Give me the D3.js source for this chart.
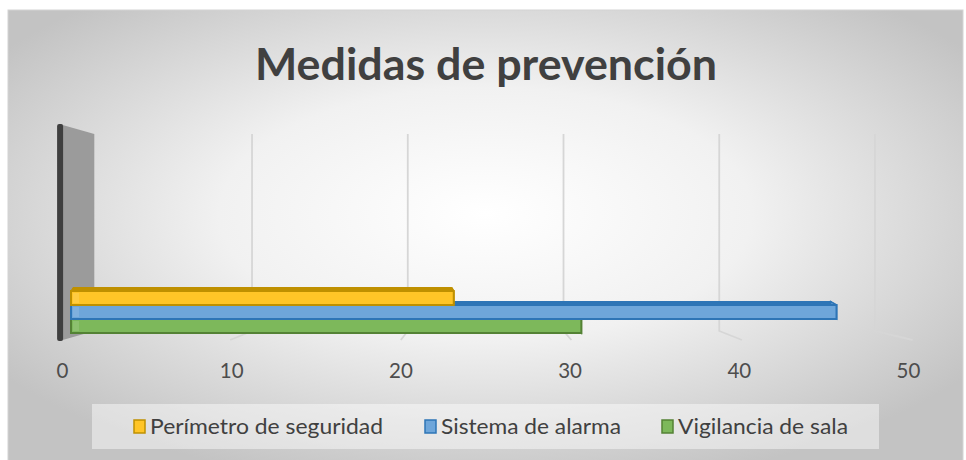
<!DOCTYPE html>
<html>
<head>
<meta charset="utf-8">
<script src="https://cdn.jsdelivr.net/npm/d3@7"></script>
<style>
  html, body { margin: 0; padding: 0; background: #ffffff; }
  svg { display: block; }
</style>
</head>
<body>
<svg id="chart" width="966" height="460"></svg>
<script>
// ---- data ----
const title = "Medidas de prevención";
const seriesNames = ["Perímetro de seguridad", "Sistema de alarma", "Vigilancia de sala"];
const seriesValues = [23.1, 46.2, 30.8];
const seriesColors = ["#ffc000", "#5b9bd5", "#70ad47"];
const seriesFill = ["#ffc527", "#6ea6da", "#7db85b"];
const seriesStroke = ["#bf9000", "#2e75b6", "#548235"];
const tickValues = [0, 10, 20, 30, 40, 50];

const W = 966, H = 460;
const svg = d3.select("#chart");
const defs = svg.append("defs");

const rg = defs.append("radialGradient").attr("id", "bg")
  .attr("cx", "0.5").attr("cy", "0.45").attr("r", "0.62");
rg.append("stop").attr("offset", "0").attr("stop-color", "#ffffff");
rg.append("stop").attr("offset", "0.45").attr("stop-color", "#f1f1f1");
rg.append("stop").attr("offset", "1").attr("stop-color", "#c3c3c3");

// chart area
svg.append("rect").attr("x", 8).attr("y", 10).attr("width", 955).attr("height", 452)
  .attr("fill", "url(#bg)").attr("stroke", "#d4d4d4").attr("stroke-width", 1);

// ---- scales (3D perspective: back wall, front floor edge, bar depth, labels) ----
const xBack  = d3.scaleLinear().domain([0, 50]).range([96.3, 875]);
const xFront = d3.scaleLinear().domain([0, 50]).range([59.6, 912.6]);
const xBar   = d3.scaleLinear().domain([0, 50]).range([71, 899.5]);
const xBarBack = d3.scaleLinear().domain([0, 50]).range([73, 893]);
const xLabel = d3.scaleLinear().domain([0, 50]).range([62, 908]);

const wallTop = 134, wallBottom = 331, floorFront = 340;
const y = d3.scaleBand().domain(seriesNames).range([291, 333]).padding(0);

// title
svg.append("text").attr("x", 486).attr("y", 80).attr("text-anchor", "middle")
  .attr("font-family", "Lato, 'Open Sans', sans-serif").attr("font-weight", "bold")
  .attr("font-size", 44).attr("fill", "#404040")
  .attr("textLength", 462).attr("lengthAdjust", "spacingAndGlyphs")
  .text(title);

// gridlines: back wall vertical + floor diagonal
const grid = svg.append("g");
tickValues.filter(v => v > 0).forEach(v => {
  const c = v === 50 ? "#d6d6d6" : "#d6d6d6";
  grid.append("path")
    .attr("d", `M${xBack(v)},${wallTop} L${xBack(v)},${wallBottom} L${xFront(v)},${floorFront}`)
    .attr("fill", "none").attr("stroke", c).attr("stroke-width", 1.8);
});

// left side wall
svg.append("path")
  .attr("d", `M${xFront(0) + 3},${125} L${xBack(0) - 2},${wallTop} L${xBack(0) - 2},${wallBottom} L${xFront(0) + 3},${floorFront}Z`)
  .attr("fill", "#9b9b9b");
svg.append("rect").attr("x", xFront(0) - 2.5).attr("y", 124).attr("width", 6).attr("height", floorFront - 123)
  .attr("rx", 2).attr("fill", "#3f3f3f");

// bars (3D) drawn in visual stacking order: bottom series first
const depth = 3.5;
const order = [2, 1, 0];
const bars = svg.append("g");
order.forEach(i => {
  const name = seriesNames[i];
  const v = seriesValues[i];
  const y0 = y(name), h = y.bandwidth();
  const x0 = xBar(0), x1 = xBar(v);
  const xb0 = xBarBack(0), xb1 = xBarBack(v);
  // top face
  bars.append("path")
    .attr("d", `M${x0},${y0} L${x1},${y0} L${xb1},${y0 - depth} L${xb0},${y0 - depth}Z`)
    .attr("fill", seriesStroke[i]).attr("stroke", seriesStroke[i]).attr("stroke-width", 1);
  // right end face
  bars.append("path")
    .attr("d", `M${x1},${y0} L${xb1},${y0 - depth} L${xb1},${y0 + h - depth} L${x1},${y0 + h}Z`)
    .attr("fill", seriesFill[i]).attr("stroke", seriesStroke[i]).attr("stroke-width", 1.5);
  // front face
  bars.append("rect").attr("x", x0).attr("y", y0).attr("width", x1 - x0).attr("height", h)
    .attr("fill", seriesFill[i]).attr("stroke", seriesStroke[i]).attr("stroke-width", 2);
  // faint lighter left cap
  bars.append("rect").attr("x", x0 + 2).attr("y", y0 + 2).attr("width", 6).attr("height", h - 4)
    .attr("fill", "#ffffff").attr("opacity", 0.12);
});

// axis labels
const axisG = svg.append("g").attr("transform", `translate(0,${378})`);
const axis = d3.axisBottom(xLabel).tickValues(tickValues).tickSize(0).tickPadding(0);
axisG.call(axis);
axisG.select(".domain").remove();
axisG.selectAll("text").attr("dy", 0).attr("y", 0)
  .attr("font-family", "Lato, 'Open Sans', sans-serif").attr("font-size", 20.5).attr("fill", "#4d4d4d");

// legend
svg.append("rect").attr("x", 92).attr("y", 404).attr("width", 787).attr("height", 45)
  .attr("fill", "#ffffff").attr("opacity", 0.45);
const legX = [134, 425, 662];
const legW = [233, 180, 170];
const leg = svg.append("g");
seriesNames.forEach((n, i) => {
  leg.append("rect").attr("x", legX[i]).attr("y", 420).attr("width", 11).attr("height", 13)
    .attr("fill", seriesFill[i]).attr("stroke", seriesStroke[i]).attr("stroke-width", 1.5);
  leg.append("text").attr("x", legX[i] + 16).attr("y", 434)
    .attr("font-family", "Lato, 'Open Sans', sans-serif").attr("font-size", 20.5).attr("fill", "#404040")
    .attr("textLength", legW[i]).attr("lengthAdjust", "spacingAndGlyphs")
    .text(n);
});
</script>
</body>
</html>
